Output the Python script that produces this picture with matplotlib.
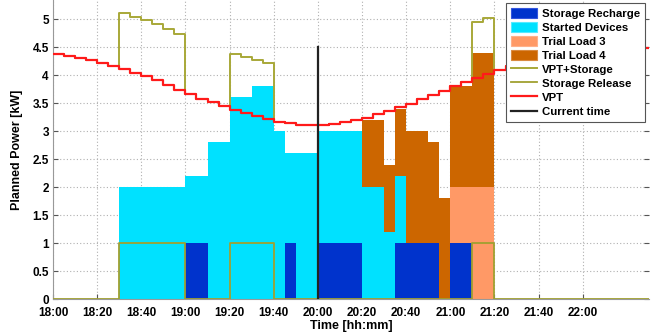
import numpy as np
import matplotlib
matplotlib.use("Agg")
import matplotlib.pyplot as plt

plt.rcParams['font.family'] = ['Liberation Sans', 'DejaVu Sans']
plt.rcParams['font.weight'] = 'bold'

# ---- data -------------------------------------------------------------
start_time = "18:00"
end_time = "22:30"
step_min = 5

# Virtual power threshold, one value per 5-minute slot from 18:00
vpt = [4.375, 4.34, 4.30, 4.26, 4.21, 4.16, 4.10, 4.04, 3.98, 3.91, 3.82, 3.74,
       3.66, 3.58, 3.52, 3.45, 3.375, 3.32, 3.26, 3.21, 3.17, 3.14, 3.11, 3.11,
       3.11, 3.125, 3.16, 3.20, 3.24, 3.30, 3.36, 3.43, 3.49, 3.57, 3.64, 3.72,
       3.80, 3.87, 3.95, 4.02, 4.09, 4.16, 4.21, 4.26, 4.30, 4.34, 4.37, 4.40,
       4.42, 4.44, 4.46, 4.47, 4.48, 4.49]

# piecewise-constant series: (change times, values holding until next change)
recharge_t = ["19:00", "19:10", "19:45", "19:50", "20:00", "20:20", "20:35", "20:55", "21:00", "21:10"]
recharge_v = [1.0, 0.0, 1.0, 0.0, 1.0, 0.0, 1.0, 0.0, 1.0, 0.0]

started_t = ["18:30", "19:00", "19:10", "19:20", "19:30", "19:40", "19:45", "19:50",
             "20:00", "20:20", "20:30", "20:35", "20:40"]
started_v = [2.0, 1.2, 2.8, 3.6, 3.8, 3.0, 1.6, 2.6, 2.0, 2.0, 1.2, 1.2, 0.0]

trial3_t = ["21:00", "21:10", "21:20"]
trial3_v = [1.0, 2.0, 0.0]

trial4_t = ["20:20", "20:40", "20:50", "21:10", "21:20"]
trial4_v = [1.2, 2.0, 1.8, 2.4, 0.0]

release_t = ["18:30", "19:00", "19:20", "19:40", "21:10", "21:20"]
release_v = [1.0, 0.0, 1.0, 0.0, 1.0, 0.0]

current_time = "20:00"
current_line_top = 4.5

tick_labels = ["18:00", "18:20", "18:40", "19:00", "19:20", "19:40", "20:00",
               "20:20", "20:40", "21:00", "21:20", "21:40", "22:00"]


def to_min(s):
    h, m = s.split(":")
    return (int(h) - 18) * 60 + int(m)


t0, t1 = to_min(start_time), to_min(end_time)
slots = np.arange(t0, t1, step_min)


def on_grid(times, values):
    out = np.zeros(len(slots))
    mins = [to_min(s) for s in times]
    for m, v in zip(mins, values):
        out[slots >= m] = v
    return out


rech = on_grid(recharge_t, recharge_v)
stdv = on_grid(started_t, started_v)
tl3 = on_grid(trial3_t, trial3_v)
tl4 = on_grid(trial4_t, trial4_v)
rel = on_grid(release_t, release_v)
vpt_a = np.array(vpt)

x_edges = np.append(slots, t1)


def ext(a):
    return np.append(a, a[-1])


# ---- figure -------------------------------------------------------------
fig = plt.figure(figsize=(6.59, 3.36), dpi=100)
ax = fig.add_axes([53 / 659, 37 / 336, 596 / 659, 299 / 336])

layers = [
    (rech, '#0033cc', '#3355dd', 'Storage Recharge'),
    (stdv, '#00e1ff', '#55eaff', 'Started Devices'),
    (tl3, '#ff9966', '#ffb08a', 'Trial Load 3'),
    (tl4, '#cc6600', '#d98a40', 'Trial Load 4'),
]
base = np.zeros(len(slots))
handles = []
for vals, fc, ec, lab in layers:
    top = base + vals
    ax.fill_between(x_edges, ext(base), ext(top), step='post', facecolor=fc,
                    edgecolor='none', linewidth=0, zorder=2)
    handles.append(plt.Rectangle((0, 0), 1, 1, facecolor=fc, edgecolor=ec, linewidth=0.8, label=lab))
    base = top

h_vs, = ax.step(x_edges, ext(vpt_a + rel), where='post', color='#a8a838', lw=1.4,
                zorder=3, label='VPT+Storage')
h_rel, = ax.step(x_edges, ext(rel), where='post', color='#a0a030', lw=1.3,
                 zorder=3, label='Storage Release')
h_vpt, = ax.step(x_edges, ext(vpt_a), where='post', color='#ff1a1a', lw=1.6,
                 zorder=4, label='VPT')
ct = to_min(current_time)
h_ct, = ax.plot([ct, ct], [0, current_line_top], color='#222222', lw=1.6,
                zorder=5, label='Current time')

ax.set_xlim(t0, t1)
ax.set_ylim(0, 5.34)
ax.set_xticks([to_min(s) for s in tick_labels])
ax.set_xticklabels(tick_labels)
ax.set_yticks(np.arange(0, 5.01, 0.5))
ax.set_yticklabels(['0', '0.5', '1', '1.5', '2', '2.5', '3', '3.5', '4', '4.5', '5'])
ax.tick_params(direction='in', length=3.5, width=0.8, color='#555555',
               labelsize=8.5, right=True)
ax.tick_params(axis='x', pad=5.5)
ax.tick_params(axis='y', pad=3)
for lbl in ax.get_xticklabels() + ax.get_yticklabels():
    lbl.set_fontweight('bold')

ax.set_axisbelow(True)
ax.grid(True, color='#b0b0b0', linestyle=(0, (1, 2)), linewidth=0.8)
for side in ['top', 'right']:
    ax.spines[side].set_visible(False)
ax.spines['left'].set_color('#999999')
ax.spines['bottom'].set_color('#999999')

ax.set_xlabel('Time [hh:mm]', fontsize=9, fontweight='bold', labelpad=1)
ax.set_ylabel('Planned Power [kW]', fontsize=9, fontweight='bold', labelpad=7)

leg = ax.legend(handles=handles + [h_vs, h_rel, h_vpt, h_ct],
                loc='upper right', bbox_to_anchor=(0.993, 0.99),
                borderaxespad=0, prop={'weight': 'bold', 'size': 8.2},
                fancybox=False, framealpha=1, edgecolor='#555555',
                handlelength=2.3, handleheight=1.0, labelspacing=0.27,
                handletextpad=0.45, borderpad=0.4)
leg.get_frame().set_linewidth(0.8)
leg.set_zorder(10)

fig.savefig('out.png', dpi=100)
